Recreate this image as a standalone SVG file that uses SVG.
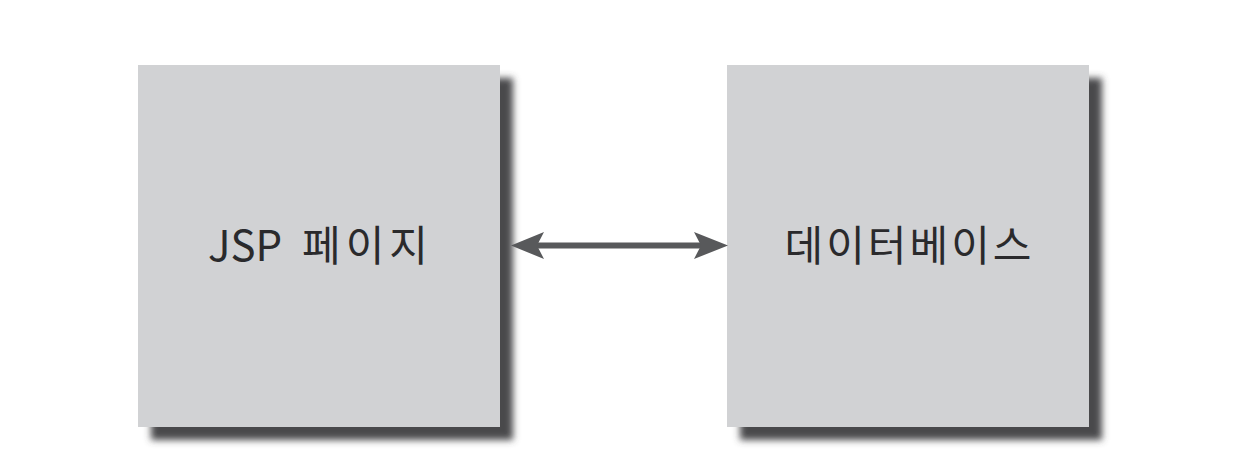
<svg xmlns="http://www.w3.org/2000/svg" width="1250" height="460" viewBox="0 0 1250 460">
<style>
.box{fill:#d1d2d4;filter:url(#sh);}
.lbl{font-family:"Noto Sans CJK KR","Noto Sans",sans-serif;font-size:42px;fill:#2a2a2c;}
.ko{letter-spacing:3px;}
.ko2{letter-spacing:5px;}
.conn{stroke:#58595b;stroke-width:6;fill:none;}
.head{fill:#58595b;}
</style>
<defs>
<filter id="sh" x="-10%" y="-10%" width="130%" height="130%">
<feDropShadow dx="13" dy="13" stdDeviation="3.5" flood-color="#4a4a4c" flood-opacity="1"/>
</filter>
</defs>
<rect width="1250" height="460" fill="#ffffff"/>
<g id="node-jsp">
<rect class="box" x="138" y="65" width="362" height="362"/>
<text class="lbl" x="208" y="261">JSP<tspan class="ko2" x="302">페이지</tspan></text>
</g>
<g id="node-db">
<rect class="box" x="727" y="65" width="362" height="362"/>
<text class="lbl ko" x="909.5" y="261" text-anchor="middle">데이터베이스</text>
</g>
<g id="connectors">
<line class="conn" x1="536" y1="245.5" x2="702" y2="245.5"/>
<polygon class="head" points="511,245.5 544,232 537,245.5 544,259"/>
<polygon class="head" points="728,245.5 694,232 701,245.5 694,259"/>
</g>
</svg>
